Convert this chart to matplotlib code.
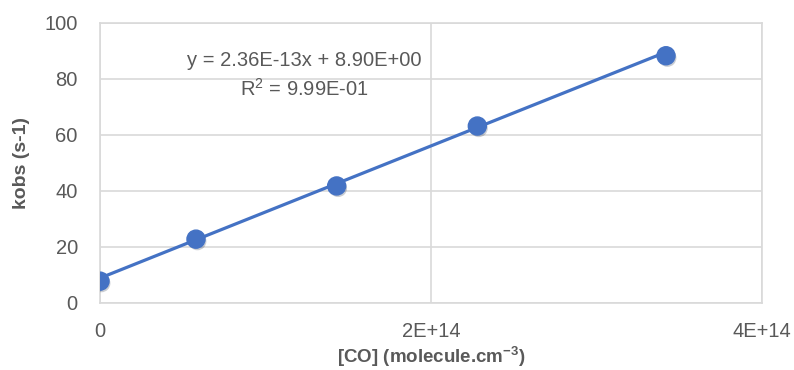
import matplotlib.pyplot as plt
import matplotlib.patheffects as pe

# measured points
co_conc = [0.0, 0.58e14, 1.43e14, 2.28e14, 3.42e14]
kobs = [7.8, 22.8, 41.8, 63.2, 88.3]

# excel linear trendline
slope = 2.36e-13
intercept = 8.90

x_ticks = [0, 2e14, 4e14]
x_ticklabels = ["0", "2E+14", "4E+14"]
y_ticks = [0, 20, 40, 60, 80, 100]

BLUE = "#4472C4"
GRID = "#d9d9d9"
TXT = "#595959"

plt.rcParams['font.family'] = ['Liberation Sans', 'DejaVu Sans']
plt.rcParams['mathtext.default'] = 'regular'

fig = plt.figure(figsize=(7.94, 3.70), dpi=100)
ax = fig.add_axes([100 / 794, 1 - 303 / 370, 662 / 794, 280 / 370])

# trendline from first to last x
x_line = [co_conc[0], co_conc[-1]]
y_line = [slope * x + intercept for x in x_line]
ax.plot(x_line, y_line, color=BLUE, linewidth=2.3, zorder=3)

ax.plot(co_conc, kobs, linestyle='none', marker='o', markersize=13,
        color=BLUE, zorder=4,
        path_effects=[pe.SimplePatchShadow(offset=(1, -1.5), alpha=0.22),
                      pe.Normal()])

ax.set_xlim(0, 4e14)
ax.set_ylim(0, 100)
ax.set_xticks(x_ticks)
ax.set_xticklabels(x_ticklabels)
ax.set_yticks(y_ticks)

ax.grid(True, color=GRID, linewidth=1.2)
ax.set_axisbelow(True)
for s in ax.spines.values():
    s.set_color(GRID)
    s.set_linewidth(1.2)
ax.tick_params(length=0, labelsize=14.5, labelcolor=TXT)
ax.tick_params(axis='x', pad=14)
ax.tick_params(axis='y', pad=16)

ax.set_xlabel("[CO] (molecule.cm$^{-3}$)", fontsize=13.5,
              fontweight='bold', color=TXT)
ax.xaxis.set_label_coords(0.5, -0.15)
ax.set_ylabel("kobs (s-1)", fontsize=14, fontweight='bold', color=TXT)
ax.yaxis.label.set_va('center')
ax.yaxis.set_label_coords(-0.118, 0.5)

ax.text(0.308, 0.814, "y = 2.36E-13x + 8.90E+00\nR$^2$ = 9.99E-01",
        transform=ax.transAxes, ha='center', va='center', fontsize=14.5,
        color=TXT, linespacing=1.45)

fig.savefig("out.png", dpi=100)
